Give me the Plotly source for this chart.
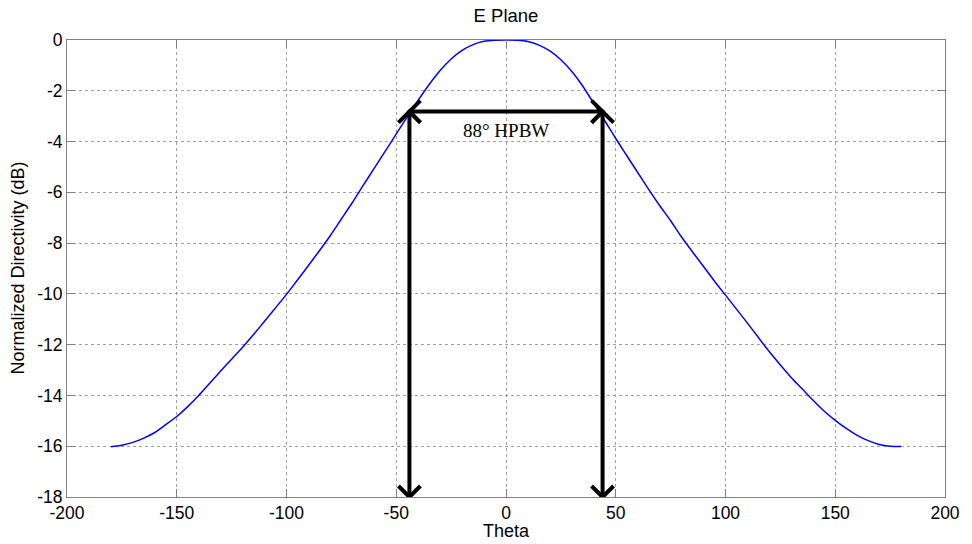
import plotly.graph_objects as go

# ---- data ----
theta = [-180, -175, -170, -165, -160, -155, -150, -145, -140, -135, -130, -125,
         -120, -115, -110, -105, -100, -95, -90, -85, -80, -75, -70, -65, -60,
         -55, -50, -45, -40, -35, -30, -25, -20, -15, -10, -5, 0,
         5, 10, 15, 20, 25, 30, 35, 40, 45, 50, 55, 60, 65, 70, 75, 80, 85,
         90, 95, 100, 105, 110, 115, 120, 125, 130, 135, 140, 145, 150, 155,
         160, 165, 170, 175, 180]
directivity_db = [-16.02, -15.96, -15.85, -15.68, -15.46, -15.15, -14.83, -14.44,
                  -14.00, -13.52, -13.04, -12.57, -12.10, -11.60, -11.08, -10.55,
                  -10.02, -9.45, -8.88, -8.30, -7.70, -7.05, -6.40, -5.72, -5.05,
                  -4.38, -3.70, -3.03, -2.37, -1.75, -1.20, -0.75, -0.41, -0.18,
                  -0.05, -0.01, 0.0,
                  -0.01, -0.06, -0.20, -0.43, -0.78, -1.24, -1.82, -2.50, -3.18,
                  -3.88, -4.55, -5.22, -5.88, -6.52, -7.12, -7.76, -8.35, -8.92,
                  -9.50, -10.05, -10.60, -11.15, -11.72, -12.28, -12.80, -13.30,
                  -13.75, -14.20, -14.62, -14.98, -15.30, -15.57, -15.78, -15.93,
                  -16.00, -16.01]

hpbw_deg = 88
arrow_level_db = -2.82
x_ticks = [-200, -150, -100, -50, 0, 50, 100, 150, 200]
y_ticks = [-18, -16, -14, -12, -10, -8, -6, -4, -2, 0]

FONT = "Liberation Sans, Arial, sans-serif"
AX = "#808080"

fig = go.Figure()
fig.add_trace(go.Scatter(x=theta, y=directivity_db, mode="lines",
                         line=dict(color="#0000ff", width=1.5, shape="spline", smoothing=0.8),
                         showlegend=False, hoverinfo="skip"))

half = hpbw_deg / 2
ymin = y_ticks[0]
shapes = []
lw = 4
# horizontal double arrow
shapes.append(dict(type="line", x0=-half, x1=half, y0=arrow_level_db, y1=arrow_level_db,
                   xref="x", yref="y", line=dict(color="black", width=lw)))
# vertical double arrows
for xv in (-half, half):
    shapes.append(dict(type="line", x0=xv, x1=xv, y0=arrow_level_db, y1=ymin,
                       xref="x", yref="y", line=dict(color="black", width=lw)))

def chevron(xa, ya, path):
    return dict(type="path", xref="x", yref="y", xsizemode="pixel", ysizemode="pixel",
                xanchor=xa, yanchor=ya, path=path,
                line=dict(color="black", width=lw))

a = 11
# heads of the horizontal arrow
shapes.append(chevron(-half, arrow_level_db, f"M {a} {a} L 0 0 L {a} {-a}"))
shapes.append(chevron(half, arrow_level_db, f"M {-a} {a} L 0 0 L {-a} {-a}"))
# top heads of vertical arrows (pointing up)
shapes.append(chevron(-half, arrow_level_db, f"M {-a} {-a} L 0 0 L {a} {-a}"))
shapes.append(chevron(half, arrow_level_db, f"M {-a} {-a} L 0 0 L {a} {-a}"))
# bottom heads (pointing down)
shapes.append(chevron(-half, ymin, f"M {-a} {a} L 0 0 L {a} {a}"))
shapes.append(chevron(half, ymin, f"M {-a} {a} L 0 0 L {a} {a}"))

annotations = [
    dict(x=0, y=-3.58, xref="x", yref="y", text=f"{hpbw_deg}° HPBW", showarrow=False,
         font=dict(family="Liberation Serif, Times New Roman, serif", size=19, color="black")),
    dict(x=0.5, y=0, xref="paper", yref="paper", text="Theta", showarrow=False,
         yanchor="middle", yshift=-34, font=dict(family=FONT, size=18, color="black")),
    dict(x=0, y=0.5, xref="paper", yref="paper", text="Normalized Directivity (dB)",
         showarrow=False, textangle=-90, xanchor="center", yanchor="middle", xshift=-50,
         font=dict(family=FONT, size=18, color="black")),
]

axis_common = dict(showline=True, linecolor=AX, linewidth=1, mirror="ticks",
                   ticks="inside", ticklen=8, tickcolor=AX, tickwidth=1,
                   showgrid=True, gridcolor="#a0a0a0", griddash="dot", gridwidth=1,
                   zeroline=False, tickfont=dict(family=FONT, size=17.5, color="black"))

fig.update_layout(
    width=972, height=544,
    margin=dict(l=67, r=23, t=40, b=47),
    paper_bgcolor="white", plot_bgcolor="white",
    title=dict(text="E Plane", x=0.5, xref="paper", y=1 - 16 / 544, yref="container",
               xanchor="center", yanchor="middle",
               font=dict(family=FONT, size=18.5, color="black")),
    xaxis=dict(range=[-200, 200], tickvals=x_ticks, ticktext=[str(v) for v in x_ticks],
               **axis_common),
    yaxis=dict(range=[-18, 0], tickvals=y_ticks, ticktext=[str(v) for v in y_ticks],
               **axis_common),
    shapes=shapes, annotations=annotations,
)

fig.write_html("out.html", config={"displayModeBar": False},
               post_script="document.body.style.margin='0px';")
